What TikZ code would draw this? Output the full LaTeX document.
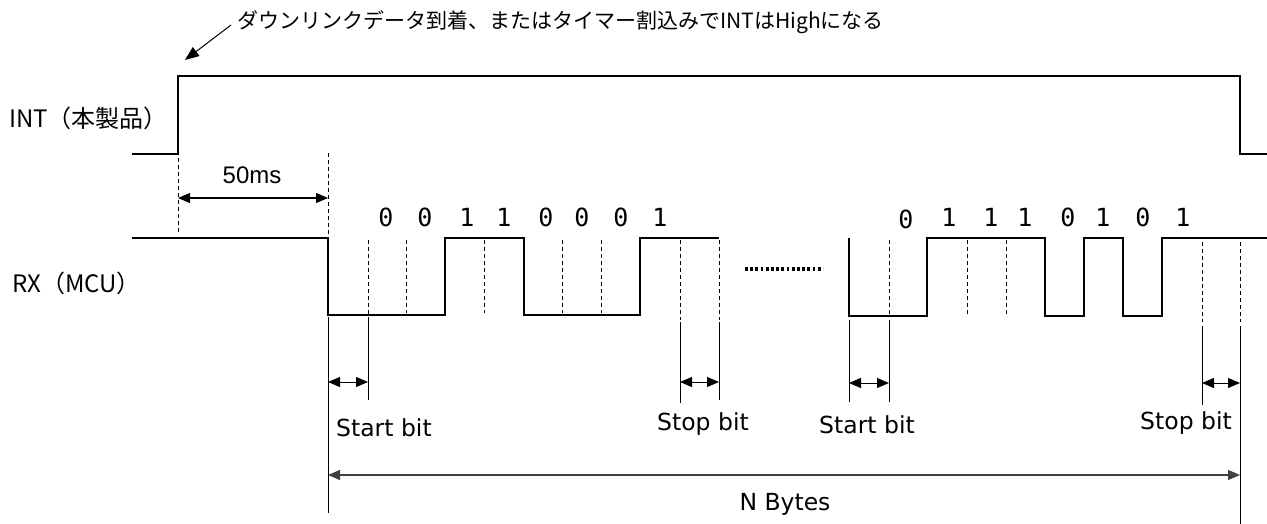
\documentclass[tikz,border=0pt]{standalone}
\usepackage{fontspec}
\setmainfont{Noto Sans CJK JP}
\newfontfamily\bitfont{DejaVu Sans Mono}
\newfontfamily\msfont{Liberation Sans}
\newfontfamily\latinfont{DejaVu Sans}
\usetikzlibrary{arrows.meta}

\tikzset{
  signal/.style={line width=2.6pt},
  bitline/.style={dash pattern=on 4pt off 3pt, line width=0.8pt},
  ruler/.style={line width=0.9pt},
  span/.style={{Triangle[length=12pt,width=10pt]}-{Triangle[length=12pt,width=10pt]}, line width=1pt},
  lbl/.style={font=\fontsize{24}{28}\selectfont, inner sep=0pt},
  bitlbl/.style={font=\latinfont\fontsize{23.5}{28}\selectfont, inner sep=0pt},
  bit/.style={font=\bitfont\fontsize{25}{28}\selectfont, inner sep=0pt}
}

\begin{document}
\begin{tikzpicture}
[x=1pt,y=-1pt]
\useasboundingbox (0,0) rectangle (1267,524);

% names of the two lines
\node[lbl,anchor=west] (intname) at (9,118) {INT（本製品）};
\node[lbl,anchor=west] (rxname) at (12,283) {RX（MCU）};

% note on the rising edge
\node[anchor=west,inner sep=0pt,font=\fontsize{21}{25}\selectfont] (note) at (237,22) {ダウンリンクデータ到着、またはタイマー割込みでINTはHighになる};
\coordinate (rise) at (185,60);
\draw[-{Triangle[length=14pt,width=11pt]}, line width=1pt] ([xshift=-6pt,yshift=-3pt]note.west) -- (rise);

% INT
\draw[signal] (132,154) -- (178,154) -- (178,76) -- (1240,76) -- (1240,154) -- (1267,154);

% 50ms
\draw[bitline] (178,158) -- (178,233);
\draw[bitline] (328,153) -- (328,236);
\draw[span] (178,198) -- (328,198);
\node[font=\msfont\fontsize{24}{28}\selectfont] (wait) at (252,175) {50ms};

% RX, first byte
\draw[signal] (132,238) -- (328,238) -- (328,315) -- (445,315) -- (445,238)
  -- (524,238) -- (524,315) -- (640,315) -- (640,238) -- (719,238);
\draw[bitline] (368,240) -- (368,315);
\draw[bitline] (406,240) -- (406,313);
\draw[bitline] (484,240) -- (484,313);
\draw[bitline] (562,240) -- (562,313);
\draw[bitline] (601,240) -- (601,313);
\draw[bitline] (680,240) -- (680,320);
\draw[bitline] (719,240) -- (719,320);

\node[bit] (b11) at (386,217) {0};
\node[bit] (b12) at (425,217) {0};
\node[bit] (b13) at (467,217) {1};
\node[bit] (b14) at (504,217) {1};
\node[bit] (b15) at (546,217) {0};
\node[bit] (b16) at (582,217) {0};
\node[bit] (b17) at (621,217) {0};
\node[bit] (b18) at (660,217) {1};

% gap
\draw[line width=3.4pt, dash pattern=on 2.8pt off 2.4pt] (745,269) -- (823,269);

% RX, last byte
\draw[signal] (849,238) -- (849,316) -- (927,316) -- (927,238) -- (1045,238)
  -- (1045,316) -- (1084,316) -- (1084,238) -- (1123,238) -- (1123,316)
  -- (1162,316) -- (1162,238) -- (1267,238);
\draw[bitline] (889,240) -- (889,316);
\draw[bitline] (967,240) -- (967,316);
\draw[bitline] (1006,240) -- (1006,316);
\draw[bitline] (1202,242) -- (1202,322);
\draw[bitline] (1240,242) -- (1240,322);

\node[bit] (b21) at (906,219) {0};
\node[bit] (b22) at (949,217) {1};
\node[bit] (b23) at (991,217) {1};
\node[bit] (b24) at (1025,217) {1};
\node[bit] (b25) at (1068,217) {0};
\node[bit] (b26) at (1103,217) {1};
\node[bit] (b27) at (1143,217) {0};
\node[bit] (b28) at (1183,217) {1};

% start and stop bits
\draw[ruler] (328,317) -- (328,513);
\draw[ruler] (368,317) -- (368,400);
\draw[span] (328,382) -- (368,382);
\node[bitlbl,anchor=west] (start1) at (336,428) {Start bit};

\draw[ruler] (680,322) -- (680,403);
\draw[ruler] (719,322) -- (719,400);
\draw[span] (680,382) -- (719,382);
\node[bitlbl] (stop1) at (703,424) {Stop bit};

\draw[ruler] (849,320) -- (849,402);
\draw[ruler] (889,320) -- (889,402);
\draw[span] (849,383) -- (889,383);
\node[bitlbl] (start2) at (867,425) {Start bit};

\draw[ruler] (1202,326) -- (1202,405);
\draw[ruler] (1240,326) -- (1240,524);
\draw[span] (1202,383) -- (1240,383);
\node[bitlbl] (stop2) at (1186,423) {Stop bit};

% whole frame
\draw[span, line width=1.2pt, draw=black!75] (328,475) -- (1240,475);
\node[bitlbl] (nbytes) at (785,504) {N Bytes};
\end{tikzpicture}
\end{document}
